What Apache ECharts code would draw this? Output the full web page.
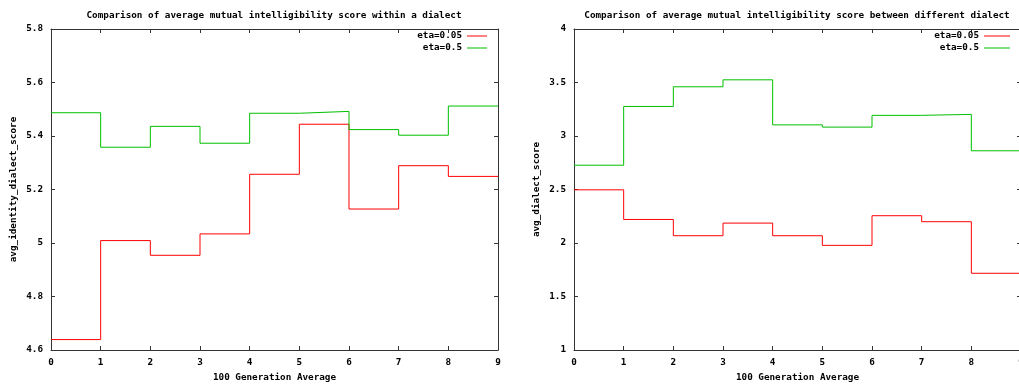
<!DOCTYPE html>
<html><head><meta charset="utf-8">
<script src="https://cdn.jsdelivr.net/npm/echarts@6/dist/echarts.min.js"></script>
<style>html,body{margin:0;padding:0;background:#fff}#c{width:1019px;height:385px}</style>
</head><body><div id="c"></div>
<script>
// bin edges (100 generation averages)
const binEdges = [0,1,2,3,4,5,6,7,8,9];
// Left chart: within a dialect
const withinEta005 = [4.639, 5.009, 4.954, 5.034, 5.257, 5.444, 5.127, 5.289, 5.249];
const withinEta05  = [5.487, 5.358, 5.436, 5.373, 5.485, 5.492, 5.424, 5.403, 5.512];
// Right chart: between different dialects
const betweenEta005 = [2.497, 2.220, 2.068, 2.186, 2.068, 1.978, 2.255, 2.199, 1.717];
const betweenEta05  = [2.727, 3.276, 3.460, 3.525, 3.104, 3.083, 3.193, 3.202, 2.862];
const seriesNames = ['eta=0.05','eta=0.5'];
const leftTitle = 'Comparison of average mutual intelligibility score within a dialect';
const rightTitle = 'Comparison of average mutual intelligibility score between different dialect';
const xName = '100 Generation Average';
const leftYName = 'avg_identity_dialect_score';
const rightYName = 'avg_dialect_score';

const FONT = 'DejaVu Sans Mono';
const txt = {fontFamily: FONT, fontWeight: 'bold', fontSize: 9.3, color: '#000'};
const axisCol = '#333';
function steps(vals){ return binEdges.map((e,i)=>[e, vals[Math.min(i, vals.length-1)]]); }

function xAx(grid, pos, show){
  return {type:'value', gridIndex:grid, position:pos, min:0, max:9, interval:1,
    name: show ? xName : '', nameLocation:'middle', nameGap:23, nameTextStyle:txt,
    axisLine:{show:true, onZero:false, lineStyle:{color:axisCol, width:1}},
    axisTick:{show:true, inside:true, length:4, lineStyle:{color:axisCol}},
    axisLabel:{show:show, margin:8, ...txt},
    splitLine:{show:false}};
}
function yAx(grid, pos, show, min, max, iv, name){
  return {type:'value', gridIndex:grid, position:pos, min:min, max:max, interval:iv,
    name: show ? name : '', nameLocation:'middle', nameGap:33, nameRotate:90, nameTextStyle:txt,
    axisLine:{show:true, onZero:false, lineStyle:{color:axisCol, width:1}},
    axisTick:{show:true, inside:true, length:4, lineStyle:{color:axisCol}},
    axisLabel:{show:show, margin:8, ...txt},
    splitLine:{show:false}};
}
function ser(name, vals, xi, yi, color){
  return {type:'line', name:name, step:'end', data:steps(vals), xAxisIndex:xi, yAxisIndex:yi,
    showSymbol:false, symbol:'none', lineStyle:{color:color, width:1}, itemStyle:{color:color},
    animation:false, silent:true};
}
const RED = '#ff0000', GREEN = '#00c000';
const chart = echarts.init(document.getElementById('c'), null, {renderer:'canvas'});
chart.setOption({
  animation:false,
  backgroundColor:'#fff',
  title:[
    {text:leftTitle, left:269, top:6, textAlign:'center', textStyle:txt},
    {text:rightTitle, left:792, top:6, textAlign:'center', textStyle:txt}
  ],
  legend:[
    {data:seriesNames, orient:'vertical', align:'right', right:527, top:26, icon:'rect', itemWidth:20, itemHeight:1, itemGap:2, textStyle:{...txt, lineHeight:10}},
    {data:seriesNames, orient:'vertical', align:'right', right:4, top:26, icon:'rect', itemWidth:26, itemHeight:1, itemGap:2, textStyle:{...txt, lineHeight:10}}
  ],
  grid:[
    {left:51, top:29, width:447, height:321, outerBoundsMode:'none', containLabel:false},
    {left:574, top:29, width:447, height:321, outerBoundsMode:'none', containLabel:false}
  ],
  xAxis:[xAx(0,'bottom',true), xAx(0,'top',false), xAx(1,'bottom',true), xAx(1,'top',false)],
  yAxis:[yAx(0,'left',true,4.6,5.8,0.2,leftYName), yAx(0,'right',false,4.6,5.8,0.2,''),
         yAx(1,'left',true,1,4,0.5,rightYName), yAx(1,'right',false,1,4,0.5,'')],
  series:[
    ser(seriesNames[0], withinEta005, 0, 0, RED),
    ser(seriesNames[1], withinEta05, 0, 0, GREEN),
    ser(seriesNames[0], betweenEta005, 2, 2, RED),
    ser(seriesNames[1], betweenEta05, 2, 2, GREEN)
  ]
});
</script></body></html>
